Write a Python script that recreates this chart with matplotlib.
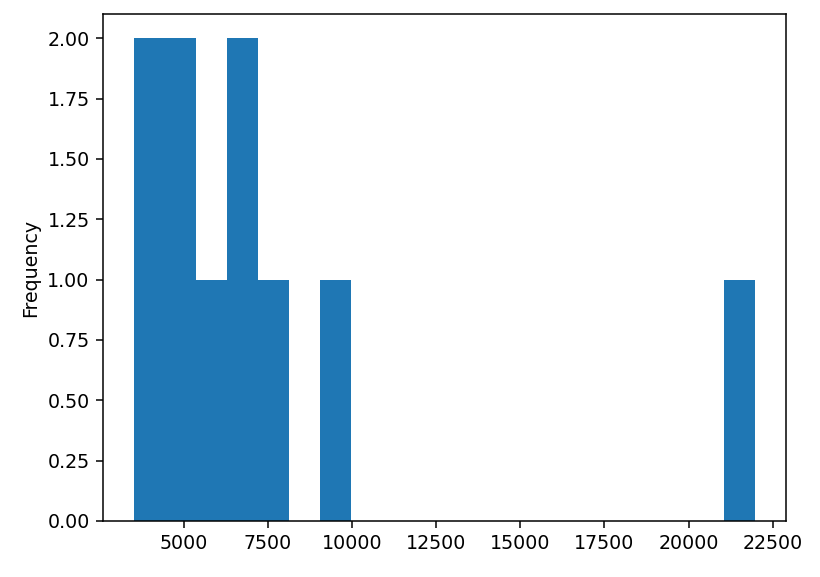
import numpy as np
import pandas as pd
import matplotlib
matplotlib.use('Agg')
from matplotlib import pyplot as plt

# values (20 bins)
values = [3520, 4100, 4700, 5100, 5800, 6500, 6900, 7600, 9500, 21975]
n_bins = 20

dpi = 137
fig = plt.figure(figsize=(820 / dpi, 577 / dpi), dpi=dpi)
ax = fig.add_axes([103 / 820, 1 - 521 / 577, (786 - 103) / 820, (521 - 14) / 577])

s = pd.Series(values)
s.plot.hist(bins=n_bins, ax=ax, color='#1f77b4')
ax.set_yticks(np.arange(0, 2.01, 0.25))
ax.set_yticklabels(['%.2f' % t for t in np.arange(0, 2.01, 0.25)])
ax.set_xticks([5000, 7500, 10000, 12500, 15000, 17500, 20000, 22500])

fig.savefig('out.png', dpi=dpi)
